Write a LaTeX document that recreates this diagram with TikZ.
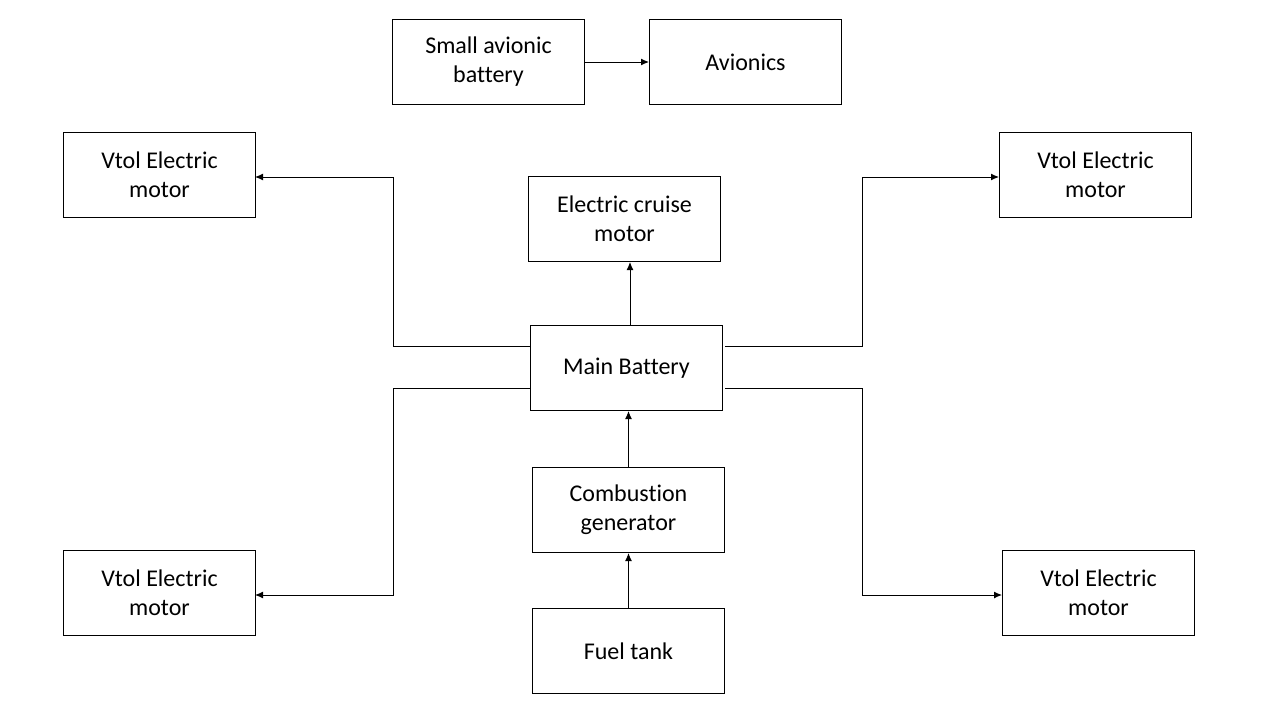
\documentclass[tikz,border=0pt]{standalone}
\usepackage{fontspec}
\setmainfont{Carlito}[Ligatures={NoCommon}]
\usetikzlibrary{arrows.meta}
\begin{document}
\begin{tikzpicture}[x=1pt,y=-1pt,
  blk/.style={draw=black,line width=1pt,minimum width=192pt,minimum height=85pt,inner sep=0pt,align=center,font=\fontsize{24}{29}\selectfont,anchor=north west},
  conn/.style={draw=black,line width=1pt,-{Latex[length=8pt,width=7pt]}}]
\useasboundingbox[fill=white] (0,0) rectangle (1280,720);
\node[blk] (sab) at (392,19) {Small avionic\\battery};
\node[blk] (av) at (649,19) {Avionics};
\node[blk] (vtl) at (63,132) {Vtol Electric\\motor};
\node[blk] (ecm) at (528,176) {Electric cruise\\motor};
\node[blk] (vtr) at (999,132) {Vtol Electric\\motor};
\node[blk] (mb) at (530,325) {Main Battery};
\node[blk] (cg) at (532,467) {Combustion\\generator};
\node[blk] (ft) at (532,608) {Fuel tank};
\node[blk] (vbl) at (63,550) {Vtol Electric\\motor};
\node[blk] (vbr) at (1002,550) {Vtol Electric\\motor};
\coordinate (mbt) at (630,325);
\coordinate (mbl1) at (530,346);
\coordinate (mbl2) at (530,388);
\coordinate (mbr1) at (725,346);
\coordinate (mbr2) at (725,388);
\coordinate (tl) at (255,177);
\coordinate (bl) at (255,595);
\coordinate (tr) at (999,177);
\coordinate (br) at (1002,595);
\draw[conn] (sab.east) -- (av.west);
\draw[conn] (mbt) -- (mbt |- ecm.south);
\draw[conn] (ft.north) -- (cg.south);
\draw[conn] (cg.north) -- (cg.north |- mb.south);
\draw[conn] (mbl1) -- (393,346) |- (tl);
\draw[conn] (mbl2) -- (393,388) |- (bl);
\draw[conn] (mbr1) -- (862,346) |- (tr);
\draw[conn] (mbr2) -- (862,388) |- (br);
\end{tikzpicture}
\end{document}
